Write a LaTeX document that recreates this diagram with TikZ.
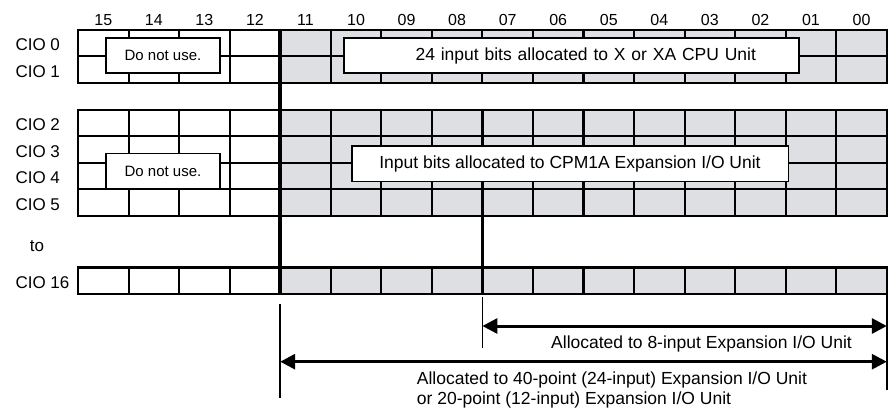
\documentclass[tikz,border=0pt]{standalone}
\usepackage{fontspec}
\setmainfont{Liberation Sans}
\usepackage{xcolor}
\usetikzlibrary{arrows.meta,positioning}
\definecolor{bitgray}{HTML}{DDDFE3}

\newcommand{\colw}{50.55}
\newcommand{\rowh}{26.4}

\begin{document}
\begin{tikzpicture}[
  x=1pt, y=-1pt,
  gridline/.style={line width=2.1pt, line cap=rect},
  sepline/.style={line width=3.8pt},
  tickline/.style={line width=1.6pt},
  notebox/.style={draw, line width=1.6pt, fill=white, inner sep=0pt,
                  font=\fontsize{15}{18}\selectfont},
  bitbox/.style={draw, line width=1.6pt, fill=white, inner ysep=0pt,
                 font=\fontsize{17.5}{21}\selectfont},
  bitnum/.style={anchor=base, font=\fontsize{16}{18}\selectfont},
  ciolabel/.style={anchor=base west, font=\fontsize{17}{20}\selectfont},
  dimarrow/.style={{Triangle[length=15pt,width=15pt]}-{Triangle[length=15pt,width=15pt]}, line width=3pt},
  dimlabel/.style={font=\fontsize{17.5}{20}\selectfont, inner sep=0pt},
]
\useasboundingbox (0,0) rectangle (888,410);

% Word blocks: top edge / number of words
\foreach \ytop/\nw in {30/2, 110/4, 267.5/1}{
  \pgfmathsetmacro\ybot{\ytop+\nw*\rowh}
  \fill[bitgray] (78+4*\colw,\ytop) rectangle (78+16*\colw,\ybot);
  \foreach \r in {0,...,\nw}
    \draw[gridline] (78,\ytop+\r*\rowh) -- (78+16*\colw,\ytop+\r*\rowh);
  \foreach \c in {0,...,16}
    \draw[gridline] (78+\c*\colw,\ytop) -- (78+\c*\colw,\ybot);
}

% Bit numbers
\foreach \b [count=\i from 0] in {15,14,13,12,11,10,09,08,07,06,05,04,03,02,01,00}
  \node[bitnum] (bit\b) at (78+\i*\colw+0.5*\colw,25.7) {\b};

% Word labels
\node[ciolabel] (cio0)  at (12,50.8)  {CIO 0};
\node[ciolabel] (cio1)  at (12,77.2)  {CIO 1};
\node[ciolabel] (cio2)  at (12,130.8) {CIO 2};
\node[ciolabel] (cio3)  at (12,157.2) {CIO 3};
\node[ciolabel] (cio4)  at (12,183.6) {CIO 4};
\node[ciolabel] (cio5)  at (12,210)   {CIO 5};
\node[anchor=base, font=\fontsize{17}{20}\selectfont] (cioto) at (37,251.7) {to};
\node[ciolabel] (cio16) at (12,288.3) {CIO 16};

% Separators
\draw[sepline] (78+4*\colw,30) -- (78+4*\colw,293.9);
\draw[sepline] (78+8*\colw,110) -- (78+8*\colw,293.9);

% Boxes
\node[notebox, minimum width=114, minimum height=35] (nouse1) at (163,55.5) {Do not use.};
\node[notebox, minimum width=114, minimum height=35.5] (nouse2) at (163,171.2) {Do not use.};
\node[bitbox, text width=369, align=right, inner xsep=43, minimum height=35] (cpubits) at (571.5,55.5)
  {24 input bits allocated to X or XA CPU Unit};
\node[bitbox, minimum width=436.6, minimum height=35.7] (expbits) at (570,163.8)
  {Input bits allocated to CPM1A Expansion I/O Unit};

% --- dimension lines ---
\coordinate (t11top) at (78+4*\colw,304);
\coordinate (t11bot) at (78+4*\colw,398);
\coordinate (t07top) at (78+8*\colw,296.7);
\coordinate (t07bot) at (78+8*\colw,348);
\coordinate (t00top) at (78+16*\colw,294);
\coordinate (t00bot) at (78+16*\colw,390);
\draw[tickline] (t11top) -- (t11bot);
\draw[tickline] (t07top) -- (t07bot);
\draw[tickline] (t00top) -- (t00bot);

\coordinate (a8l)  at (78+8*\colw,326);
\coordinate (a8r)  at (78+16*\colw,326);
\coordinate (a40l) at (78+4*\colw,361.7);
\coordinate (a40r) at (78+16*\colw,361.7);
\draw[dimarrow] (a8l) -- (a8r);
\draw[dimarrow] (a40l) -- (a40r);

\node[dimlabel, anchor=base east] (lab8) at (852,348) {Allocated to 8-input Expansion I/O Unit};
\node[dimlabel, anchor=north west, align=left] (lab40) at (416.7,371.5)
  {Allocated to 40-point (24-input) Expansion I/O Unit\\or 20-point (12-input) Expansion I/O Unit};

\end{tikzpicture}
\end{document}
